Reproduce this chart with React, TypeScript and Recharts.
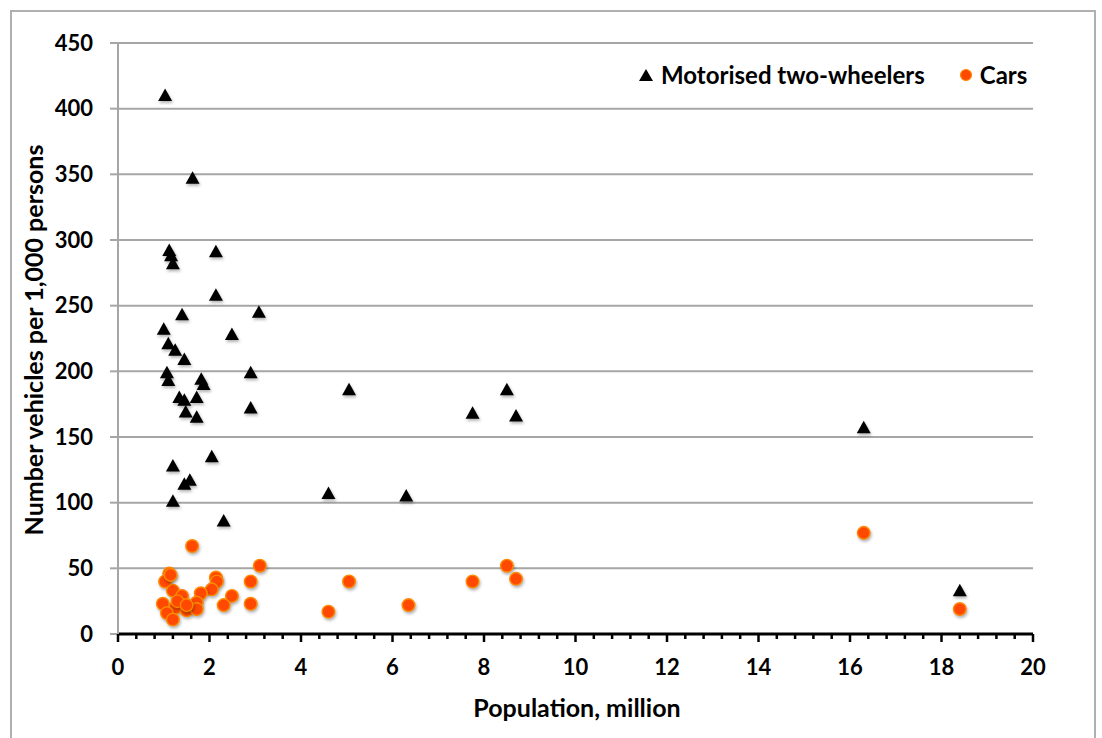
import React from "react";
import {
  ScatterChart,
  Scatter,
  XAxis,
  YAxis,
  CartesianGrid,
  Legend,
} from "recharts";

// ---- data ----
const twoWheelerPop = [
  1.03, 1.63, 1.12, 1.16, 1.2, 2.14, 2.14, 3.08, 1.4, 1.0, 2.49, 1.1, 1.25, 1.45,
  1.07, 1.1, 2.9, 1.82, 1.87, 1.34, 1.45, 1.72, 1.48, 1.72, 2.9, 2.05, 1.2, 1.57,
  1.45, 1.2, 2.31, 4.6, 5.05, 6.3, 7.75, 8.5, 8.7, 16.3, 18.4,
];
const twoWheelerRate = [
  410, 347, 292, 288, 282, 291, 258, 245, 243, 232, 228, 221, 216, 209,
  199, 193, 199, 194, 190, 180, 178, 180, 169, 165, 172, 135, 128, 117,
  114, 101, 86, 107, 186, 105, 168, 186, 166, 157, 33,
];
const carPop = [
  1.62, 3.1, 1.12, 1.03, 2.14, 2.16, 2.9, 2.05, 1.2, 1.4, 1.81, 2.49, 0.98, 1.72,
  2.31, 2.9, 1.25, 1.5, 1.72, 1.07, 1.2, 1.3, 1.5, 1.15, 4.6, 5.05, 6.35, 7.75,
  8.5, 8.7, 16.3, 18.4,
];
const carRate = [
  67, 52, 46, 40, 43, 40, 40, 34, 33, 29, 31, 29, 23, 24,
  22, 23, 20, 18, 19, 16, 11, 25, 22, 45, 17, 40, 22, 40,
  52, 42, 77, 19,
];
const xTicks = Array.from({ length: 51 }, (_, i) => Math.round(i * 0.4 * 10) / 10);
const xLabelTicks = [0, 2, 4, 6, 8, 10, 12, 14, 16, 18, 20];
const yTicks = [0, 50, 100, 150, 200, 250, 300, 350, 400, 450];
const seriesNames = ["Motorised two-wheelers", "Cars"];

const twoWheelerData = twoWheelerPop.map((x, i) => ({ x, y: twoWheelerRate[i] }));
const carData = carPop.map((x, i) => ({ x, y: carRate[i] }));

const FONT = "Lato, 'Open Sans', sans-serif";
const GRID = "#a6a6a6";

const Triangle = (props: any) => {
  const { cx, cy } = props;
  if (cx == null || cy == null) return null;
  return (
    <path
      d={`M${cx},${cy - 7} L${cx + 7},${cy + 5.5} L${cx - 7},${cy + 5.5} Z`}
      fill="#000"
      style={{ filter: "drop-shadow(1px 2px 1.5px rgba(0,0,0,0.3))" }}
    />
  );
};

const Dot = (props: any) => {
  const { cx, cy } = props;
  if (cx == null || cy == null) return null;
  return (
    <circle
      cx={cx}
      cy={cy}
      r={6.3}
      fill="#ff4800"
      stroke="#ff8a00"
      strokeWidth={1.4}
      style={{ filter: "drop-shadow(1px 2px 1.5px rgba(0,0,0,0.3))" }}
    />
  );
};

const XTick = (props: any) => {
  const { x, y, payload } = props;
  const v = payload.value;
  const major = xLabelTicks.includes(v);
  return (
    <g>
      <line x1={x} x2={x} y1={y} y2={y + (major ? 8 : 5)} stroke="#000" strokeWidth={2.5} />
      {major && (
        <text
          x={x}
          y={y + 32}
          textAnchor="middle"
          dominantBaseline="central"
          fontFamily={FONT}
          fontWeight={700}
          fontSize={22}
          fill="#000"
        >
          {v}
        </text>
      )}
    </g>
  );
};

const LegendContent = () => (
  <div
    style={{
      display: "flex",
      alignItems: "center",
      fontFamily: FONT,
      fontWeight: 700,
      fontSize: 24,
      color: "#000",
      whiteSpace: "nowrap",
    }}
  >
    <svg width={16} height={14} style={{ marginRight: 7 }}>
      <path d="M8,1 L15,13 L1,13 Z" fill="#000" />
    </svg>
    <span>{seriesNames[0]}</span>
    <svg width={14} height={14} style={{ marginLeft: 34, marginRight: 7 }}>
      <circle cx={7} cy={7} r={5.5} fill="#ff4800" stroke="#ff8a00" strokeWidth={1.2} />
    </svg>
    <span>{seriesNames[1]}</span>
  </div>
);

export default function App() {
  return (
    <div
      style={{
        position: "absolute",
        left: 0,
        top: 0,
        width: 1102,
        height: 738,
        overflow: "hidden",
        background: "#fff",
      }}
    >
      <div
        style={{
          position: "absolute",
          left: 10,
          top: 10,
          width: 1082,
          height: 900,
          border: "2px solid #b0b0b0",
        }}
      />
      <div style={{ position: "absolute", left: 0, top: 0 }}>
        <ScatterChart
          width={1102}
          height={738}
          margin={{ top: 43, right: 69, bottom: 44, left: 18 }}
        >
          <CartesianGrid horizontal vertical={false} stroke={GRID} strokeWidth={2} />
          <XAxis
            type="number"
            dataKey="x"
            domain={[0, 20]}
            ticks={xTicks}
            interval={0}
            height={60}
            tickSize={0}
            tickMargin={0}
            tickLine={false}
            axisLine={{ stroke: "#000", strokeWidth: 3 }}
            tick={<XTick />}
            allowDataOverflow
            label={{
              content: () => (
                <text
                  x={577}
                  y={707}
                  textAnchor="middle"
                  dominantBaseline="central"
                  fontFamily={FONT}
                  fontWeight={700}
                  fontSize={25}
                  fill="#000"
                >
                  Population, million
                </text>
              ),
            }}
          />
          <YAxis
            type="number"
            dataKey="y"
            domain={[0, 450]}
            ticks={yTicks}
            interval={0}
            width={100}
            tickSize={8}
            tickMargin={17}
            tickLine={{ stroke: GRID, strokeWidth: 2 }}
            axisLine={{ stroke: GRID, strokeWidth: 2 }}
            tick={{ fontFamily: FONT, fontWeight: 700, fontSize: 22, fill: "#000" }}
            label={{
              content: () => (
                <text
                  x={33}
                  y={340}
                  textAnchor="middle"
                  dominantBaseline="central"
                  transform="rotate(-90 33 340)"
                  fontFamily={FONT}
                  fontWeight={700}
                  fontSize={25}
                  fill="#000"
                >
                  Number vehicles per 1,000 persons
                </text>
              ),
            }}
          />
          <Legend
            layout="horizontal"
            verticalAlign="top"
            align="left"
            content={<LegendContent />}
            wrapperStyle={{
              position: "absolute",
              top: 60,
              left: 638,
              width: 440,
              height: 0,
              overflow: "visible",
            }}
          />
          <Scatter
            name={seriesNames[0]}
            data={twoWheelerData}
            shape={<Triangle />}
            isAnimationActive={false}
          />
          <Scatter
            name={seriesNames[1]}
            data={carData}
            shape={<Dot />}
            isAnimationActive={false}
          />
        </ScatterChart>
      </div>
    </div>
  );
}
